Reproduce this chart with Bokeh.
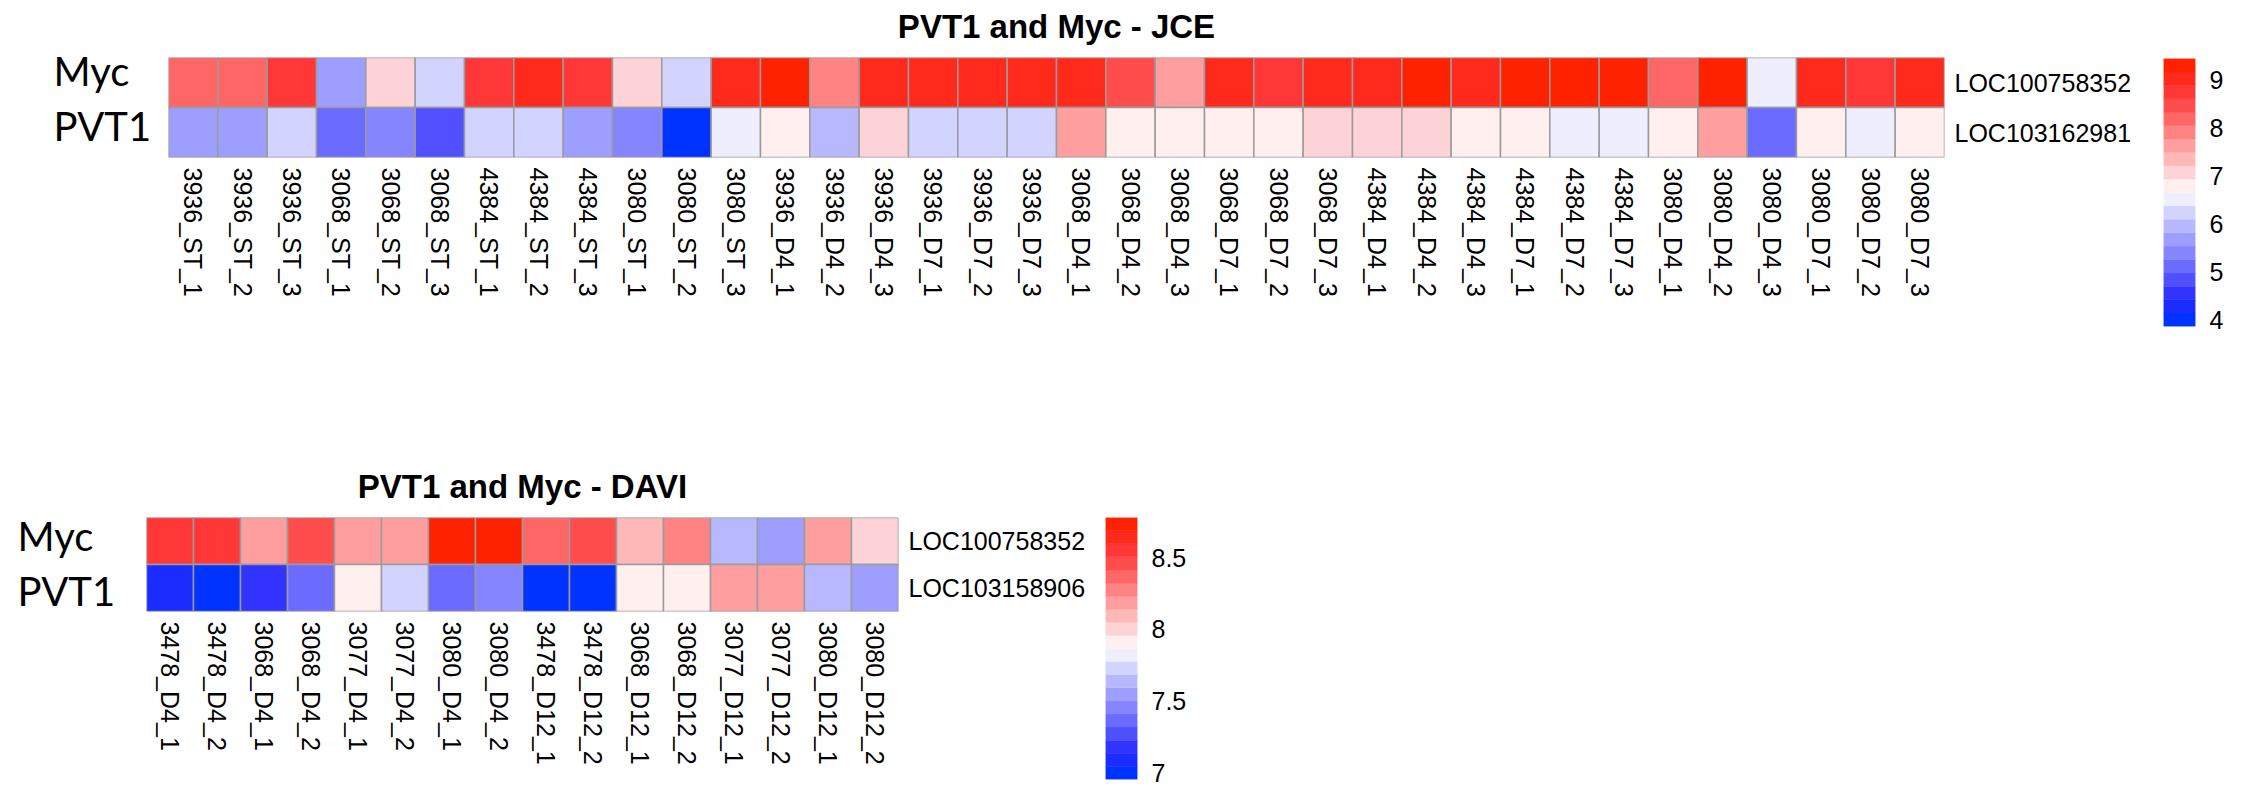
import math
import numpy as np
from bokeh.plotting import figure
from bokeh.models import (ColumnDataSource, FactorRange, LinearColorMapper,
                          Range1d, FixedTicker, Label)
from bokeh.layouts import row, column
from bokeh.transform import transform
from bokeh.embed import file_html
from bokeh.resources import INLINE

# ---------------- data ----------------
# colour palette, low -> high (20 bands as in the legend)
PALETTE = ["#0033FF", "#1A2CFF", "#3333FF", "#5050FF", "#6B6BFF",
           "#8585FF", "#9E9EFF", "#B8B8FF", "#D3D3FF", "#EEEEFF",
           "#FFEFEF", "#FDD3D8", "#FFB8B8", "#FF9E9E", "#FF8383",
           "#FF6666", "#FF4D4D", "#FF3737", "#FF2A1C", "#FF2200"]

genes = ["LOC100758352", "LOC103162981"]          # top row, bottom row (JCE)
genes_davi = ["LOC100758352", "LOC103158906"]     # top row, bottom row (DAVI)
gene_names = ["Myc", "PVT1"]

jce_samples = ["3936_ST_1", "3936_ST_2", "3936_ST_3", "3068_ST_1", "3068_ST_2", "3068_ST_3",
               "4384_ST_1", "4384_ST_2", "4384_ST_3", "3080_ST_1", "3080_ST_2", "3080_ST_3",
               "3936_D4_1", "3936_D4_2", "3936_D4_3", "3936_D7_1", "3936_D7_2", "3936_D7_3",
               "3068_D4_1", "3068_D4_2", "3068_D4_3", "3068_D7_1", "3068_D7_2", "3068_D7_3",
               "4384_D4_1", "4384_D4_2", "4384_D4_3", "4384_D7_1", "4384_D7_2", "4384_D7_3",
               "3080_D4_1", "3080_D4_2", "3080_D4_3", "3080_D7_1", "3080_D7_2", "3080_D7_3"]
jce_myc = [8.21, 8.17, 8.74, 5.70, 7.10, 6.25, 8.78, 9.02, 8.72, 7.06, 6.22, 9.05,
           9.32, 7.90, 9.00, 9.04, 9.06, 9.01, 9.03, 8.48, 7.63, 9.08, 8.76, 9.02,
           9.07, 9.38, 9.10, 9.45, 9.30, 9.35, 8.19, 9.40, 6.55, 9.05, 8.73, 9.04]
jce_pvt1 = [5.66, 5.72, 6.28, 5.15, 5.42, 4.88, 6.20, 6.26, 5.64, 5.38, 3.87, 6.50,
            6.82, 5.98, 7.05, 6.27, 6.21, 6.24, 7.66, 6.85, 6.79, 6.83, 6.86, 7.12,
            7.09, 7.05, 6.81, 6.77, 6.53, 6.49, 6.84, 7.61, 5.12, 6.87, 6.51, 6.80]
jce_low, jce_high = 3.87, 9.45
jce_ticks = [4, 5, 6, 7, 8, 9]
jce_tick_labels = ["4", "5", "6", "7", "8", "9"]

davi_samples = ["3478_D4_1", "3478_D4_2", "3068_D4_1", "3068_D4_2", "3077_D4_1", "3077_D4_2",
                "3080_D4_1", "3080_D4_2", "3478_D12_1", "3478_D12_2", "3068_D12_1", "3068_D12_2",
                "3077_D12_1", "3077_D12_2", "3080_D12_1", "3080_D12_2"]
davi_myc = [8.55, 8.56, 8.19, 8.46, 8.18, 8.20, 8.78, 8.74, 8.37, 8.45, 8.10, 8.28,
            7.64, 7.55, 8.19, 8.00]
davi_pvt1 = [7.09, 6.99, 7.18, 7.37, 7.91, 7.73, 7.36, 7.46, 6.955, 7.00, 7.90, 7.92,
             8.19, 8.17, 7.64, 7.56]
davi_low, davi_high = 6.955, 8.78
davi_ticks = [7, 7.5, 8, 8.5]
davi_tick_labels = ["7", "7.5", "8", "8.5"]

TITLE_JCE = "PVT1 and Myc - JCE"
TITLE_DAVI = "PVT1 and Myc - DAVI"

FONT = "Liberation Sans"
BORDER = "#9B9B9B"


def heatmap(samples, myc, pvt1, gene_ids, low, high, title,
            w, h, bl, br, bt, bb, name_dx, name_dy):
    n = len(samples)
    mapper = LinearColorMapper(palette=PALETTE, low=low, high=high)
    src = ColumnDataSource(dict(sample=samples * 2,
                                gene=[gene_ids[0]] * n + [gene_ids[1]] * n,
                                value=list(myc) + list(pvt1)))
    p = figure(width=w, height=h, title=None,
               x_range=FactorRange(factors=samples),
               y_range=FactorRange(factors=[gene_ids[1], gene_ids[0]]),
               x_axis_location="below", y_axis_location="right",
               toolbar_location=None, output_backend="svg",
               min_border_left=bl, min_border_right=br,
               min_border_top=bt, min_border_bottom=bb)
    p.rect(x="sample", y="gene", width=1, height=1, source=src,
           fill_color=transform("value", mapper),
           line_color=BORDER, line_width=1.5)
    p.grid.visible = False
    p.outline_line_color = None
    for ax in (p.xaxis[0], p.yaxis[0]):
        ax.axis_line_color = None
        ax.major_tick_line_color = None
        ax.minor_tick_line_color = None
        ax.major_tick_out = 0
        ax.major_tick_in = 0
        ax.major_label_text_font = FONT
        ax.major_label_text_font_size = "25px"
        ax.major_label_text_color = "black"
    p.xaxis.major_label_orientation = -math.pi / 2
    p.xaxis.major_label_standoff = 10
    p.yaxis.major_label_standoff = 10
    # title, centred over the heatmap, placed in the panel above the frame
    p.add_layout(Label(x=n / 2, y=2, y_offset=31, text=title,
                       text_font=FONT, text_font_style="bold", text_font_size="33px",
                       text_color="black", text_align="center",
                       text_baseline="alphabetic"), "above")
    # big gene names at the left (one two-line label in the left panel)
    p.add_layout(Label(x=0, y=1, x_offset=name_dx, y_offset=name_dy,
                       text="\n".join(gene_names),
                       text_font="Lato", text_font_size="40px", text_color="black",
                       text_align="left", text_baseline="middle",
                       text_line_height=1.15), "left")
    return p


def colorbar(low, high, ticks, tick_labels, w, h, bl, br, bt, bb):
    edges = np.linspace(low, high, len(PALETTE) + 1)
    src = ColumnDataSource(dict(bottom=edges[:-1], top=edges[1:], color=PALETTE))
    p = figure(width=w, height=h, x_range=Range1d(0, 1), y_range=Range1d(low, high),
               x_axis_location=None, y_axis_location="right",
               toolbar_location=None, output_backend="svg",
               min_border_left=bl, min_border_right=br,
               min_border_top=bt, min_border_bottom=bb)
    p.quad(left=0, right=1, bottom="bottom", top="top", fill_color="color",
           line_color="color", line_width=0.5, source=src)
    p.grid.visible = False
    p.outline_line_color = None
    ax = p.yaxis[0]
    ax.ticker = FixedTicker(ticks=ticks)
    ax.major_label_overrides = {t: l for t, l in zip(ticks, tick_labels)}
    ax.axis_line_color = None
    ax.major_tick_line_color = None
    ax.minor_tick_line_color = None
    ax.major_tick_out = 0
    ax.major_tick_in = 0
    ax.major_label_standoff = 14
    ax.major_label_text_font = FONT
    ax.major_label_text_font_size = "25px"
    ax.major_label_text_color = "black"
    return p


fig1 = heatmap(jce_samples, jce_myc, jce_pvt1, genes, jce_low, jce_high, TITLE_JCE,
               2154, 460, 168, 210, 57, 303, -115, 9)
cb1 = colorbar(jce_low, jce_high, jce_ticks, jce_tick_labels, 98, 460, 9, 57, 58, 134)

fig2 = heatmap(davi_samples, davi_myc, davi_pvt1, genes_davi, davi_low, davi_high, TITLE_DAVI,
               1096, 329, 146, 198, 57, 178, -129, 1)
cb2 = colorbar(davi_low, davi_high, davi_ticks, davi_tick_labels, 110, 329, 9, 69, 57, 10)

layout = column(row(fig1, column(cb1)), row(fig2, column(cb2)))

open("out.html", "w").write(file_html(layout, INLINE))
